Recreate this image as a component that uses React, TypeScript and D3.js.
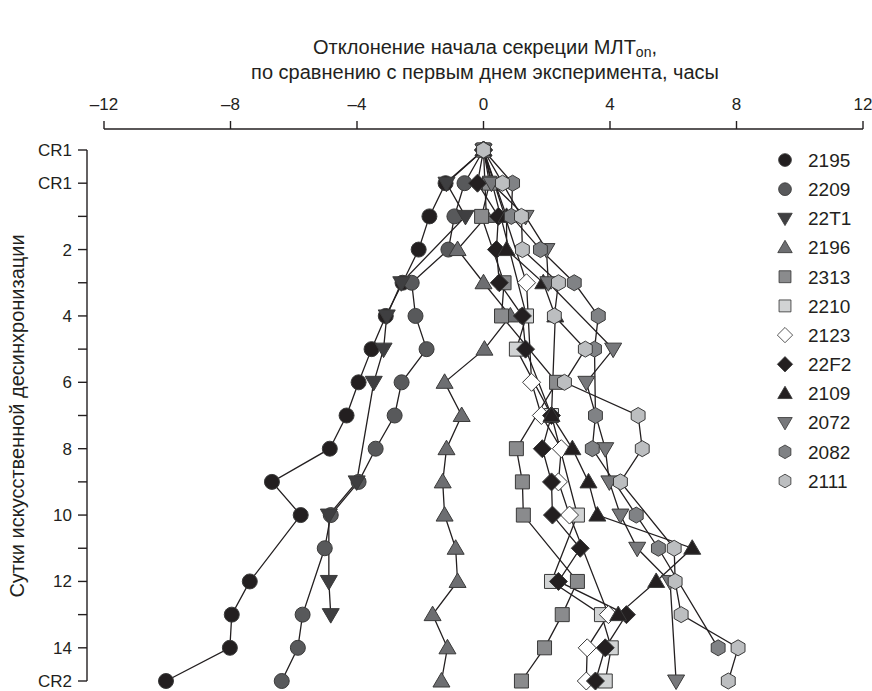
import * as d3 from "d3";

// row labels of the day axis (top to bottom)
const rowLabels = ["CR1", "CR1", "", "2", "", "4", "", "6", "", "8", "", "10", "", "12", "", "14", "CR2"];
const xTicks = [-12, -8, -4, 0, 4, 8, 12];

const names = ["2195", "2209", "22T1", "2196", "2313", "2210", "2123", "22F2", "2109", "2072", "2082", "2111"];

type V = number | null;
// hours of deviation per row (null = no measurement)
const s2195: V[] = [0, -1.2, -1.71, -2.05, -2.56, -3.09, -3.54, -3.95, -4.33, -4.86, -6.69, -5.78, null, -7.39, -7.96, -8.02, -10.04];
const s2209: V[] = [0, -0.6, -0.92, -1.11, -2.27, -2.15, -1.8, -2.59, -2.81, -3.41, -3.95, -4.83, -5.02, null, -5.72, -5.87, -6.38];
const s22T1: V[] = [0, -1.17, -0.57, null, -2.6, -3.06, -3.16, -3.47, null, null, -4.01, -4.89, null, -4.89, -4.83, null, null];
const s2196: V[] = [0, null, 0.09, -0.82, 0, 0.85, 0.03, -1.23, -0.69, -1.17, -1.29, -1.23, -0.88, -0.82, -1.61, -1.14, -1.33];
const s2313: V[] = [0, 0.19, -0.06, null, 0.65, 0.57, null, 2.31, null, 1.04, 1.23, 1.26, null, 2.97, 2.49, 1.93, 1.2];
const s2210: V[] = [0, null, null, null, null, 1.36, 1.04, null, 2.15, null, null, 2.97, null, 2.15, 3.73, 4.04, 3.85];
const s2123: V[] = [0, null, null, null, 1.36, null, null, 1.52, 1.83, 2.46, 2.37, 2.72, null, null, 3.95, 3.28, 3.25];
const s22F2: V[] = [0, -0.19, 0.47, 0.41, 0.5, 1.23, 1.33, null, 2.15, 1.86, 2.15, 2.18, 3.06, 2.37, 4.52, 3.85, 3.54];
const s2109: V[] = [0, null, 0.73, 0.73, 1.89, 2.27, null, null, 2.15, 2.81, 3.32, 3.6, 6.6, 5.46, 4.26, null, null];
const s2072: V[] = [0, 0.25, 1.33, 1.99, 2.05, null, 4.1, 3.25, null, 3.85, 3.98, 4.33, 4.86, 5.9, null, null, 6.09];
const s2082: V[] = [0, 0.92, 0.88, 1.8, 2.87, 3.63, 3.51, null, 3.54, 3.44, null, 4.83, 5.53, null, null, 7.42, null];
const s2111: V[] = [0, 0.6, 1.2, 1.23, 2.37, 2.24, 3.22, 2.56, 4.89, 5.02, 4.33, null, 6.03, 6.06, 6.25, 8.05, 7.74];

const seriesValues = [s2195, s2209, s22T1, s2196, s2313, s2210, s2123, s22F2, s2109, s2072, s2082, s2111];

type Shape = "circle" | "down" | "up" | "square" | "diamond" | "hex";
const shapes: Shape[] = ["circle", "circle", "down", "up", "square", "square", "diamond", "diamond", "up", "down", "hex", "hex"];
const fills = ["#231f20", "#58595b", "#3f3f41", "#6d6e71", "#8a8b8d", "#d1d3d4", "#ffffff", "#231f20", "#231f20", "#77787b", "#808285", "#bcbec0"];

function markerPath(shape: Shape) {
  const p = d3.path();
  if (shape === "circle") {
    p.arc(0, 0, 7.5, 0, Math.PI * 2);
  } else if (shape === "square") {
    p.rect(-7, -7, 14, 14);
  } else if (shape === "diamond") {
    p.moveTo(0, -9); p.lineTo(9, 0); p.lineTo(0, 9); p.lineTo(-9, 0); p.closePath();
  } else if (shape === "up") {
    p.moveTo(0, -8.5); p.lineTo(8.5, 6); p.lineTo(-8.5, 6); p.closePath();
  } else if (shape === "down") {
    p.moveTo(0, 8.5); p.lineTo(8.5, -6); p.lineTo(-8.5, -6); p.closePath();
  } else {
    for (let i = 0; i < 6; i++) {
      const a = (Math.PI / 3) * i - Math.PI / 2;
      const px = 8 * Math.cos(a), py = 8 * Math.sin(a);
      if (i === 0) p.moveTo(px, py); else p.lineTo(px, py);
    }
    p.closePath();
  }
  return p.toString();
}

export default function App() {
  const width = 872;
  const height = 691;
  const x = d3.scaleLinear().domain([-12, 12]).range([104, 863]);
  const y = d3.scaleLinear().domain([0, 16]).range([150, 681]);
  const rows = d3.range(rowLabels.length);
  const line = d3.line<[number, number]>().x((d) => x(d[0])).y((d) => y(d[1]));
  const font = "'Liberation Sans', Arial, sans-serif";
  const legendY = d3.scaleLinear().domain([0, 11]).range([160, 481]);

  const points = seriesValues.map((vals) =>
    vals.map((v, i) => [v, i] as [V, number]).filter((d) => d[0] !== null) as [number, number][]
  );

  return (
    <svg width={width} height={height} style={{ position: "absolute", left: 0, top: 0, background: "#fff" }} fontFamily={font}>
      <text x={485} y={54} textAnchor="middle" fontSize={20} fill="#231f20">
        Отклонение начала секреции МЛТ<tspan dy={3} fontSize={14}>on</tspan>
        <tspan dy={-3}>,</tspan>
      </text>
      <text x={485} y={79} textAnchor="middle" fontSize={20} fill="#231f20">
        по сравнению с первым днем эксперимента, часы
      </text>

      {/* top axis */}
      <g stroke="#231f20" strokeWidth={1.4}>
        <line x1={x(-12)} x2={x(12)} y1={129} y2={129} />
        {xTicks.map((t) => (
          <line key={t} x1={x(t)} x2={x(t)} y1={121} y2={129} />
        ))}
      </g>
      {xTicks.map((t) => (
        <text key={t} x={x(t)} y={110} textAnchor="middle" fontSize={17} fill="#231f20">
          {t < 0 ? `–${-t}` : t}
        </text>
      ))}

      {/* left axis */}
      <g stroke="#231f20" strokeWidth={1.4}>
        <line x1={87} x2={87} y1={y(0)} y2={y(16)} />
        {rows.map((r) => (
          <line key={r} x1={78} x2={87} y1={y(r)} y2={y(r)} />
        ))}
      </g>
      {rows.map((r) => (
        <text key={r} x={72} y={y(r)} dy="0.35em" textAnchor="end" fontSize={17} fill="#231f20">
          {rowLabels[r]}
        </text>
      ))}
      <text transform={`translate(24,${416}) rotate(-90)`} textAnchor="middle" fontSize={20} fill="#231f20">
        Сутки искусственной десинхронизации
      </text>

      {/* series lines */}
      <g fill="none" stroke="#231f20" strokeWidth={1.3}>
        {points.map((pts, i) => (
          <path key={names[i]} d={line(pts) ?? ""} />
        ))}
      </g>
      {/* markers */}
      {points.map((pts, i) => (
        <g key={names[i]} fill={fills[i]} stroke="#3a3a3a" strokeWidth={1}>
          {pts.map((d) => (
            <path key={d[1]} d={markerPath(shapes[i])} transform={`translate(${x(d[0])},${y(d[1])})`} />
          ))}
        </g>
      ))}

      {/* legend */}
      {names.map((n, i) => (
        <g key={n} transform={`translate(785,${legendY(i)})`}>
          <path d={markerPath(shapes[i])} fill={fills[i]} stroke="#3a3a3a" strokeWidth={1} transform="scale(0.85)" />
          <text x={23} dy="0.36em" fontSize={19} fill="#231f20">
            {n}
          </text>
        </g>
      ))}
    </svg>
  );
}
